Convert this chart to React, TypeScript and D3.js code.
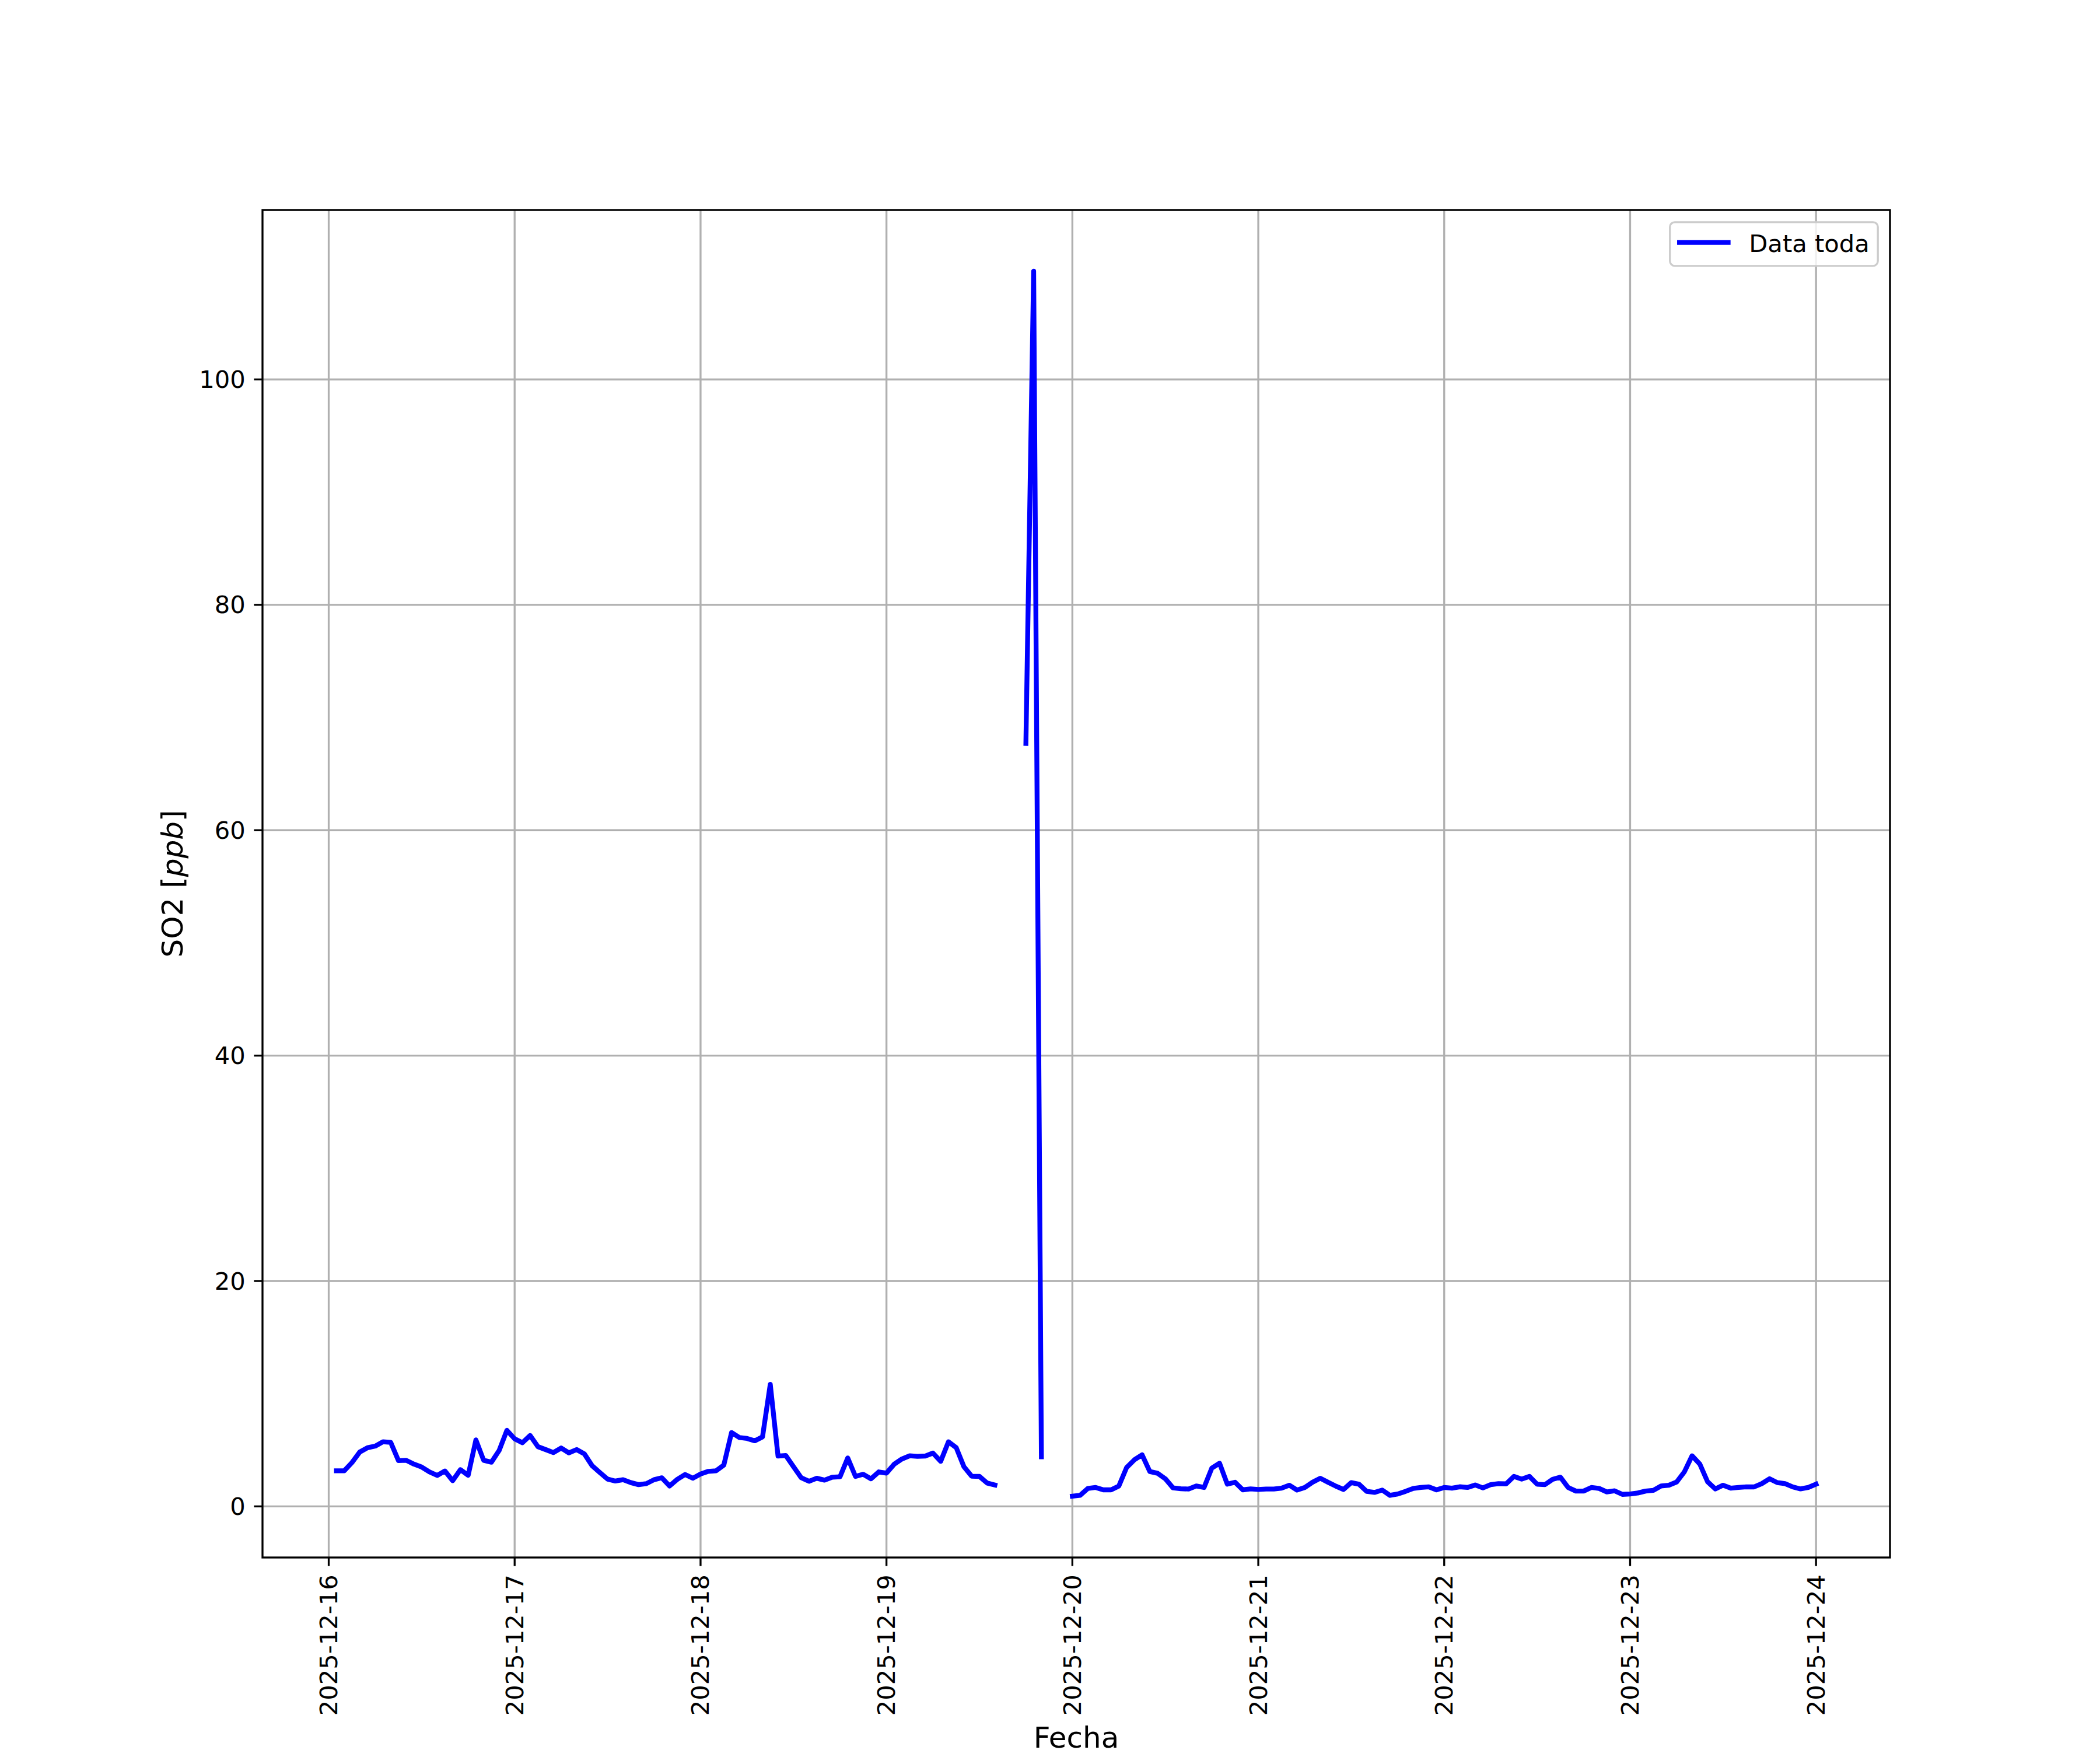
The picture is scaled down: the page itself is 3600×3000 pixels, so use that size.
import React from "react";
import * as d3 from "d3";

// Hourly SO2 [ppb], starting 2025-12-16 01:00 (UTC clock), null = missing
const day16: (number | null)[] = [3.16, 3.16, 3.89, 4.82, 5.2, 5.35, 5.73, 5.68, 4.06, 4.09, 3.75, 3.49, 3.06, 2.75, 3.14, 2.28, 3.26, 2.76, 5.9, 4.09, 3.92, 4.96, 6.75];
const day17: (number | null)[] = [6.0, 5.65, 6.29, 5.3, 5.04, 4.78, 5.18, 4.75, 5.04, 4.66, 3.61, 3.0, 2.42, 2.25, 2.37, 2.11, 1.93, 2.02, 2.37, 2.54, 1.81, 2.4, 2.83, 2.5];
const day18: (number | null)[] = [2.87, 3.11, 3.16, 3.66, 6.55, 6.11, 6.03, 5.82, 6.17, 10.83, 4.47, 4.52, 3.52, 2.54, 2.23, 2.5, 2.33, 2.59, 2.63, 4.3, 2.66, 2.85, 2.45, 3.06];
const day19: (number | null)[] = [2.95, 3.75, 4.21, 4.49, 4.44, 4.47, 4.73, 4.0, 5.73, 5.22, 3.52, 2.68, 2.66, 2.07, 1.9, null, null, null, 67.7, 109.6, 4.4, null, null, null];
const day20: (number | null)[] = [0.9, 0.98, 1.59, 1.68, 1.47, 1.47, 1.81, 3.45, 4.13, 4.58, 3.09, 2.94, 2.45, 1.64, 1.57, 1.54, 1.81, 1.68, 3.4, 3.83, 1.97, 2.14, 1.47, 1.55];
const day21: (number | null)[] = [1.5, 1.54, 1.54, 1.62, 1.88, 1.45, 1.68, 2.14, 2.5, 2.14, 1.8, 1.5, 2.11, 1.97, 1.33, 1.24, 1.45, 0.98, 1.1, 1.33, 1.59, 1.68, 1.73, 1.47];
const day22: (number | null)[] = [1.68, 1.62, 1.74, 1.68, 1.9, 1.64, 1.93, 2.02, 2.0, 2.66, 2.42, 2.66, 1.97, 1.93, 2.4, 2.59, 1.68, 1.36, 1.36, 1.68, 1.59, 1.28, 1.38, 1.07];
const day23: (number | null)[] = [1.1, 1.19, 1.36, 1.42, 1.81, 1.88, 2.16, 3.06, 4.49, 3.75, 2.19, 1.55, 1.88, 1.62, 1.68, 1.73, 1.73, 2.02, 2.45, 2.11, 2.02, 1.73, 1.55, 1.68];
const day24: (number | null)[] = [1.97];

const startTime = Date.UTC(2025, 11, 16, 1);
const yTicks = [0, 20, 40, 60, 80, 100];
const seriesLabel = "Data toda";
const xLabel = "Fecha";

type Pt = { t: Date; v: number | null };

export default function App() {
  const W = 3600, H = 3000;
  const L = 450, R = 3240, T = 360, B = 2670;
  const FS = 41.67;
  const values = [...day16, ...day17, ...day18, ...day19, ...day20, ...day21, ...day22, ...day23, ...day24];
  const data: Pt[] = values.map((v, i) => ({ t: new Date(startTime + i * 3600000), v }));

  const t0 = data[0].t.getTime();
  const t1 = data[data.length - 1].t.getTime();
  const xm = (t1 - t0) * 0.05;
  const x = d3.scaleUtc().domain([new Date(t0 - xm), new Date(t1 + xm)]).range([L, R]);

  const vals = values.filter((v): v is number => v !== null);
  const vmin = d3.min(vals)!, vmax = d3.max(vals)!;
  const ym = (vmax - vmin) * 0.05;
  const y = d3.scaleLinear().domain([vmin - ym, vmax + ym]).range([B, T]);

  const line = d3.line<Pt>()
    .defined((d) => d.v !== null)
    .x((d) => x(d.t))
    .y((d) => y(d.v as number));

  const xTicks = d3.utcDay.range(new Date(Date.UTC(2025, 11, 16)), new Date(Date.UTC(2025, 11, 24, 1)));
  const fmt = d3.utcFormat("%Y-%m-%d");
  const font = "DejaVu Sans, sans-serif";
  const gridW = 3.33;

  return (
    <svg width={W} height={H} style={{ position: "absolute", left: 0, top: 0, background: "#fff" }} fontFamily={font}>
      <rect x={0} y={0} width={W} height={H} fill="#fff" />
      {/* grid */}
      {xTicks.map((d, i) => (
        <line key={"gx" + i} x1={x(d)} x2={x(d)} y1={T} y2={B} stroke="#b0b0b0" strokeWidth={gridW} />
      ))}
      {yTicks.map((v, i) => (
        <line key={"gy" + i} x1={L} x2={R} y1={y(v)} y2={y(v)} stroke="#b0b0b0" strokeWidth={gridW} />
      ))}
      {/* data */}
      <path d={line(data) || ""} fill="none" stroke="#0000ff" strokeWidth={8.33} strokeLinejoin="round" strokeLinecap="square" />
      {/* spines */}
      <rect x={L} y={T} width={R - L} height={B - T} fill="none" stroke="#000" strokeWidth={3.33} />
      {/* x ticks */}
      {xTicks.map((d, i) => (
        <g key={"xt" + i}>
          <line x1={x(d)} x2={x(d)} y1={B} y2={B + 14.6} stroke="#000" strokeWidth={3.33} />
          <text
            transform={`translate(${x(d)},${B + 14.6 + 14.6}) rotate(-90)`}
            textAnchor="end"
            dominantBaseline="central"
            fontSize={FS}
            fill="#000"
          >
            {fmt(d)}
          </text>
        </g>
      ))}
      {/* y ticks */}
      {yTicks.map((v, i) => (
        <g key={"yt" + i}>
          <line x1={L - 14.6} x2={L} y1={y(v)} y2={y(v)} stroke="#000" strokeWidth={3.33} />
          <text x={L - 14.6 - 14.6} y={y(v)} textAnchor="end" dominantBaseline="central" fontSize={FS} fill="#000">
            {v}
          </text>
        </g>
      ))}
      {/* axis labels */}
      <text x={(L + R) / 2} y={2996} textAnchor="middle" fontSize={50} fill="#000">{xLabel}</text>
      <text transform={`translate(313,${(T + B) / 2}) rotate(-90)`} textAnchor="middle" fontSize={50} fill="#000">
        SO2 [<tspan fontStyle="italic">ppb</tspan>]
      </text>
      {/* legend */}
      <g>
        <rect x={2862.7} y={380.8} width={356.5} height={75} rx={8.3} ry={8.3} fill="#fff" fillOpacity={0.8} stroke="#cccccc" strokeWidth={3.33} />
        <line x1={2879.2} x2={2962.5} y1={415.7} y2={415.7} stroke="#0000ff" strokeWidth={8.33} strokeLinecap="square" />
        <text x={2998.3} y={431.7} fontSize={FS} fill="#000">{seriesLabel}</text>
      </g>
    </svg>
  );
}
